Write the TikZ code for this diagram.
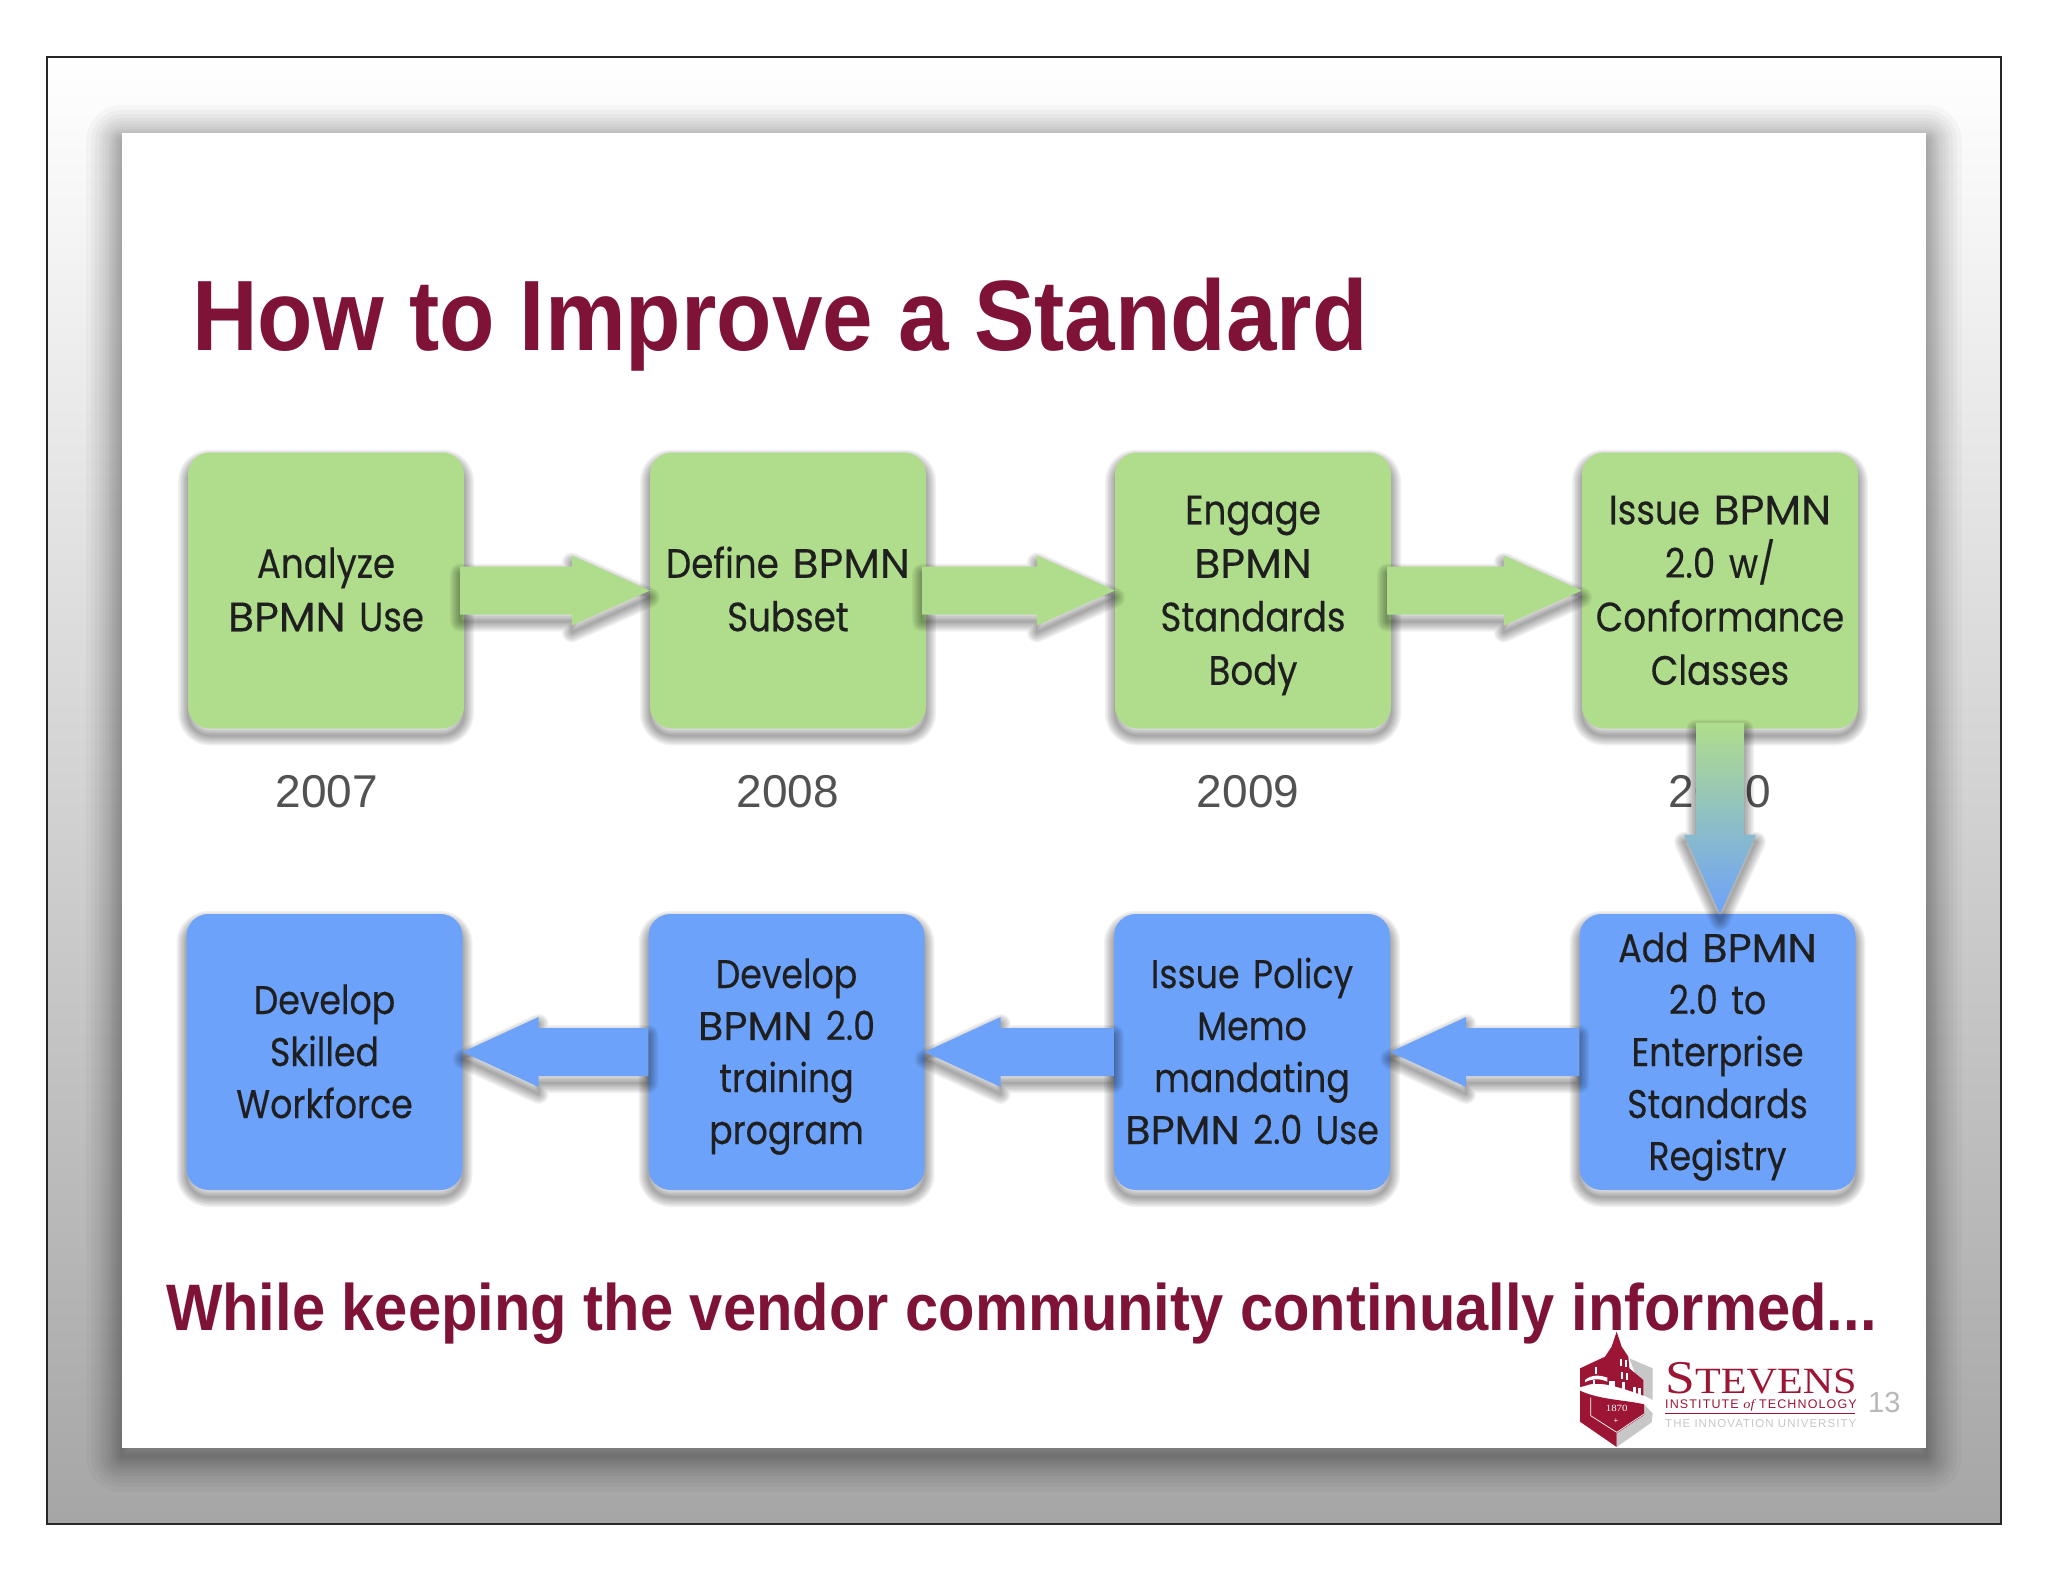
\documentclass[tikz,border=0pt]{standalone}
\usepackage{fontspec}
\usetikzlibrary{calc,positioning}
\setmainfont{Liberation Sans}
\newfontfamily\headfont[FakeStretch=0.908]{Liberation Sans}
\newfontfamily\boxfont[FakeStretch=0.87,FakeBold=0.3]{Poppins}
\newfontfamily\capsfont[FakeStretch=1.04,FakeBold=0.3]{Poppins}
\newfontfamily\logofont[FakeStretch=1.14]{Liberation Serif}
\newfontfamily\logosans[LetterSpace=9]{Liberation Sans}
\newcommand{\bpmn}{{\capsfont BPMN}}
\definecolor{titlered}{HTML}{7F1237}
\definecolor{stevensred}{HTML}{9D1535}
\definecolor{boxgreen}{HTML}{B0DD8C}
\definecolor{boxblue}{HTML}{6DA2FB}
\tikzset{
  softlayer/.style={preaction={draw=black,opacity=0.055,line width=#1,line join=round,transform canvas={yshift=-7pt}}},
  softshadow/.style={softlayer=20pt,softlayer=17pt,softlayer=14pt,softlayer=11pt,softlayer=8pt,softlayer=5pt,softlayer=2pt},
  stepbox/.style={rounded corners=22pt,minimum width=276pt,minimum height=276pt,inner sep=0pt,
    text width=272pt,align=center,text=black!88,font=\boxfont\fontsize{41}{53.5}\selectfont,softshadow,
    execute at begin node=\rule{0pt}{46.5pt},execute at end node=\rule[-18.5pt]{0pt}{18.5pt}},
  greenbox/.style={stepbox,fill=boxgreen},
  bluebox/.style={stepbox,fill=boxblue,font=\boxfont\fontsize{40}{52}\selectfont},
  yearlabel/.style={text=black!68,font=\fontsize{46}{50}\selectfont,anchor=base,inner sep=0pt},
  blockarrow/.style={softshadow},
}
\begin{document}
\begin{tikzpicture}[x=1pt,y=-1pt]
  \useasboundingbox (0,0) rectangle (2048,1582);
  % slide background
  \fill[white] (0,0) rectangle (2048,1582);
  \shade[top color=white,bottom color=black!35] (47,57) rectangle (2001,1524);
  \foreach \w in {4,8,12,16,20,24,28,34,40,46,54,62,72}
    \draw[black,opacity=0.028,line width=\w pt,line join=round] (122,141) rectangle (1926,1456);
  \draw[line width=1.5pt,black!85] (47,57) rectangle (2001,1524);
  \fill[white] (122,133) rectangle (1926,1448);

  \node[anchor=base west,inner sep=0pt,text=titlered,font=\headfont\bfseries\fontsize{100}{100}\selectfont] (title) at (192,350) {How to Improve a Standard};

  % years go under the arrows
  \node[yearlabel] (y1) at (327,807) {2007};
  \node[yearlabel] (y2) at (788,807) {2008};
  \node[yearlabel] (y3) at (1248,807) {2009};
  \node[yearlabel] (y4) at (1720,807) {2010};

  % top row
  \node[greenbox] (analyze) at (326,590.5) {Analyze\\\bpmn{} Use};
  \node[greenbox] (define) at (788,590.5) {Define \bpmn\\Subset};
  \node[greenbox] (engage) at (1253,590.5) {Engage\\\bpmn\\Standards\\Body};
  \node[greenbox] (issue) at (1720,590.5) {Issue \bpmn\\2.0 w/\\Conformance\\Classes};
  % bottom row
  \node[bluebox] (workforce) at (324.5,1052) {Develop\\Skilled\\Workforce};
  \node[bluebox] (training) at (786.5,1052) {Develop\\\bpmn{} 2.0\\training\\program};
  \node[bluebox] (memo) at (1252,1052) {Issue Policy\\Memo\\mandating\\\bpmn{} 2.0 Use};
  \node[bluebox] (registry) at (1717.5,1052) {Add \bpmn\\2.0 to\\Enterprise\\Standards\\Registry};

  % arrows, left to right
  \foreach \from/\to in {analyze/define,define/engage,engage/issue}
    \path[blockarrow,fill=boxgreen] ($(\from.east)+(-4,-24)$) -- ($(\to.west)+(-78,-24)$) -- ($(\to.west)+(-78,-35)$)
      -- (\to.west) -- ($(\to.west)+(-78,35)$) -- ($(\to.west)+(-78,24)$) -- ($(\from.east)+(-4,24)$) -- cycle;
  % arrows, right to left
  \foreach \from/\to in {registry/memo,memo/training,training/workforce}
    \path[blockarrow,fill=boxblue] ($(\from.west)+(0,-24)$) -- ($(\to.east)+(76,-24)$) -- ($(\to.east)+(76,-35)$)
      -- (\to.east) -- ($(\to.east)+(76,35)$) -- ($(\to.east)+(76,24)$) -- ($(\from.west)+(0,24)$) -- cycle;
  % the one going down
  \path[blockarrow,top color=boxgreen,bottom color=boxblue] ($(issue.south)+(-24,-6)$) -- ($(issue.south)+(-24,106)$) -- ($(issue.south)+(-36,106)$)
    -- (registry.north -| issue.south) -- ($(issue.south)+(36,106)$) -- ($(issue.south)+(24,106)$) -- ($(issue.south)+(24,-6)$) -- cycle;

  \node[anchor=base west,inner sep=0pt,text=titlered,font=\headfont\bfseries\fontsize{65.7}{67}\selectfont] (informed) at (166,1330) {While keeping the vendor community continually informed...};

  % logo
  \begin{scope}[shift={(1570,1325)},x=0.3333pt,y=-0.3333pt]
    \fill[black!22] (178,100) -- (248,130) -- (248,225) -- (220,210) -- cycle;
    \fill[black!22] (222,238) -- (248,265) -- (245,292) -- (140,366) -- (140,325) -- (222,270) -- cycle;
    \fill[stevensred] (30,197) .. controls (90,225) and (170,225) .. (222,238) -- (222,270) -- (140,325) -- (140,366) -- (30,290) -- cycle;
    \draw[white,line width=0.7pt] (62,218) -- (62,272) -- (140,322) -- (222,267);
    \fill[stevensred] (140,20) -- (155,65) -- (175,95) -- (178,130) -- (220,165) -- (220,212)
      .. controls (160,190) and (100,170) .. (60,178) .. controls (45,182) and (38,186) .. (30,186) -- (30,130) -- (105,95) -- (125,65) -- cycle;
    \fill[white] (45,165) .. controls (65,148) and (90,150) .. (112,158) -- (112,170) .. controls (90,160) and (65,160) .. (45,172) -- cycle;
    \foreach \wx/\wy in {150/102,165/104,152/140,167/143,118/168,127/168,157/172,190/185,205/190,68/165,75/125}
      \fill[white] (\wx,\wy) rectangle ++(7,22);
    \node[text=white,inner sep=0pt,font=\logofont\fontsize{9.5}{10}\selectfont] (founded) at (140,250) {1870};
    \node[text=white,inner sep=0pt,font=\fontsize{8}{8}\selectfont] (cross) at (138,288) {+};
  \end{scope}
  \node[anchor=base west,inner sep=0pt,text=stevensred,font=\logofont] (stevens) at (1665,1393)
    {\fontsize{47}{47}\selectfont S\fontsize{37}{37}\selectfont TEVENS};
  \node[anchor=base west,inner sep=0pt,text=stevensred,font=\logosans\fontsize{12.5}{13}\selectfont] (institute) at (1665,1408)
    {INSTITUTE {\logofont\itshape of} TECHNOLOGY};
  \coordinate (ruleleft) at (1665,1413.5);
  \coordinate (ruleright) at (1855,1413.5);
  \draw[stevensred,line width=1.4pt] (ruleleft) -- (ruleright);
  \node[anchor=base west,inner sep=0pt,text=black!22,font=\logosans\fontsize{11.5}{12}\selectfont] (motto) at (1665,1427)
    {THE INNOVATION UNIVERSITY};
  \node[anchor=base west,inner sep=0pt,text=black!28,font=\fontsize{29}{29}\selectfont] (pagenum) at (1868,1412) {13};
\end{tikzpicture}
\end{document}
